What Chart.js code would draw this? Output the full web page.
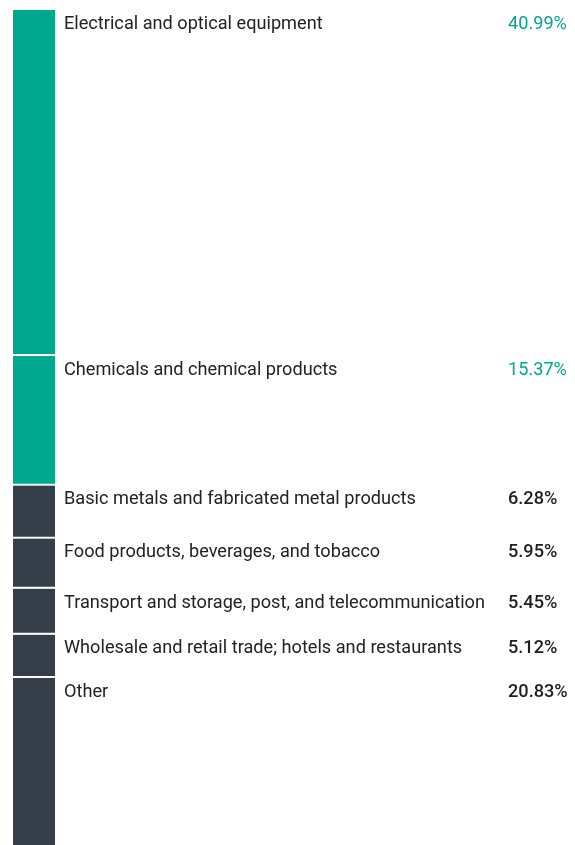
<!DOCTYPE html>
<html>
<head>
<meta charset="utf-8">
<script src="https://cdn.jsdelivr.net/npm/chart.js@4"></script>
<style>
  html, body { margin: 0; padding: 0; background: #fff; }
  #wrap { width: 575px; height: 845px; position: relative; }
</style>
</head>
<body>
<div id="wrap"><canvas id="chart"></canvas></div>
<script>
/* Industry share chart */

const categories = [
  'Electrical and optical equipment',
  'Chemicals and chemical products',
  'Basic metals and fabricated metal products',
  'Food products, beverages, and tobacco',
  'Transport and storage, post, and telecommunication',
  'Wholesale and retail trade; hotels and restaurants',
  'Other'
];
const shares = [40.99, 15.37, 6.28, 5.95, 5.45, 5.12, 20.83];
const valueLabels = ['40.99%', '15.37%', '6.28%', '5.95%', '5.45%', '5.12%', '20.83%'];
const highlighted = [true, true, false, false, false, false, false];

const TEAL = '#00a88f';
const DARK = '#353f4a';

// Labels next to every segment, drawn from the bar elements
const labelPlugin = {
  id: 'segmentLabels',
  afterDraw(chart) {
    const ctx = chart.ctx;
    ctx.save();
    ctx.font = '19px Roboto';
    // squeeze text so it looks like a condensed face
    const ref = ctx.measureText(categories[4]).width;
    const squeeze = Math.min(1, 421 / ref);
    chart.data.datasets.forEach((ds, i) => {
      const bar = chart.getDatasetMeta(i).data[0];
      const top = Math.min(bar.y, bar.base);
      const baseline = top + 19;

      ctx.save();
      ctx.translate(64, baseline);
      ctx.scale(squeeze, 1);
      ctx.font = '19px Roboto';
      ctx.fillStyle = '#222';
      ctx.textAlign = 'left';
      ctx.textBaseline = 'alphabetic';
      ctx.fillText(categories[i], 0, 0);
      ctx.restore();

      ctx.save();
      ctx.translate(508, baseline);
      ctx.scale(squeeze, 1);
      ctx.font = (highlighted[i] ? '400' : '500') + ' 19px Roboto';
      ctx.fillStyle = highlighted[i] ? TEAL : '#1e1e1e';
      ctx.textAlign = 'left';
      ctx.fillText(valueLabels[i], 0, 0);
      ctx.restore();
    });
    ctx.restore();
  }
};

new Chart(document.getElementById('chart'), {
  type: 'bar',
  data: {
    labels: ['share'],
    datasets: categories.map((name, i) => ({
      label: name,
      data: [shares[i]],
      backgroundColor: highlighted[i] ? TEAL : DARK,
      borderColor: '#ffffff',
      borderWidth: { top: 0, bottom: i < categories.length - 1 ? 2 : 0, left: 0, right: 0 },
      borderSkipped: false,
      barPercentage: 1,
      categoryPercentage: 1
    }))
  },
  options: {
    responsive: true,
    maintainAspectRatio: false,
    animation: false,
    layout: {
      padding: { left: 13, top: 10, bottom: 0, right: 520 }
    },
    plugins: {
      legend: { display: false },
      tooltip: { enabled: false }
    },
    scales: {
      x: { stacked: true, display: false },
      // the bar runs past the bottom edge of the picture
      y: { stacked: true, display: false, reverse: true, min: 0, max: 99 }
    }
  },
  plugins: [labelPlugin]
});
</script>
</body>
</html>
